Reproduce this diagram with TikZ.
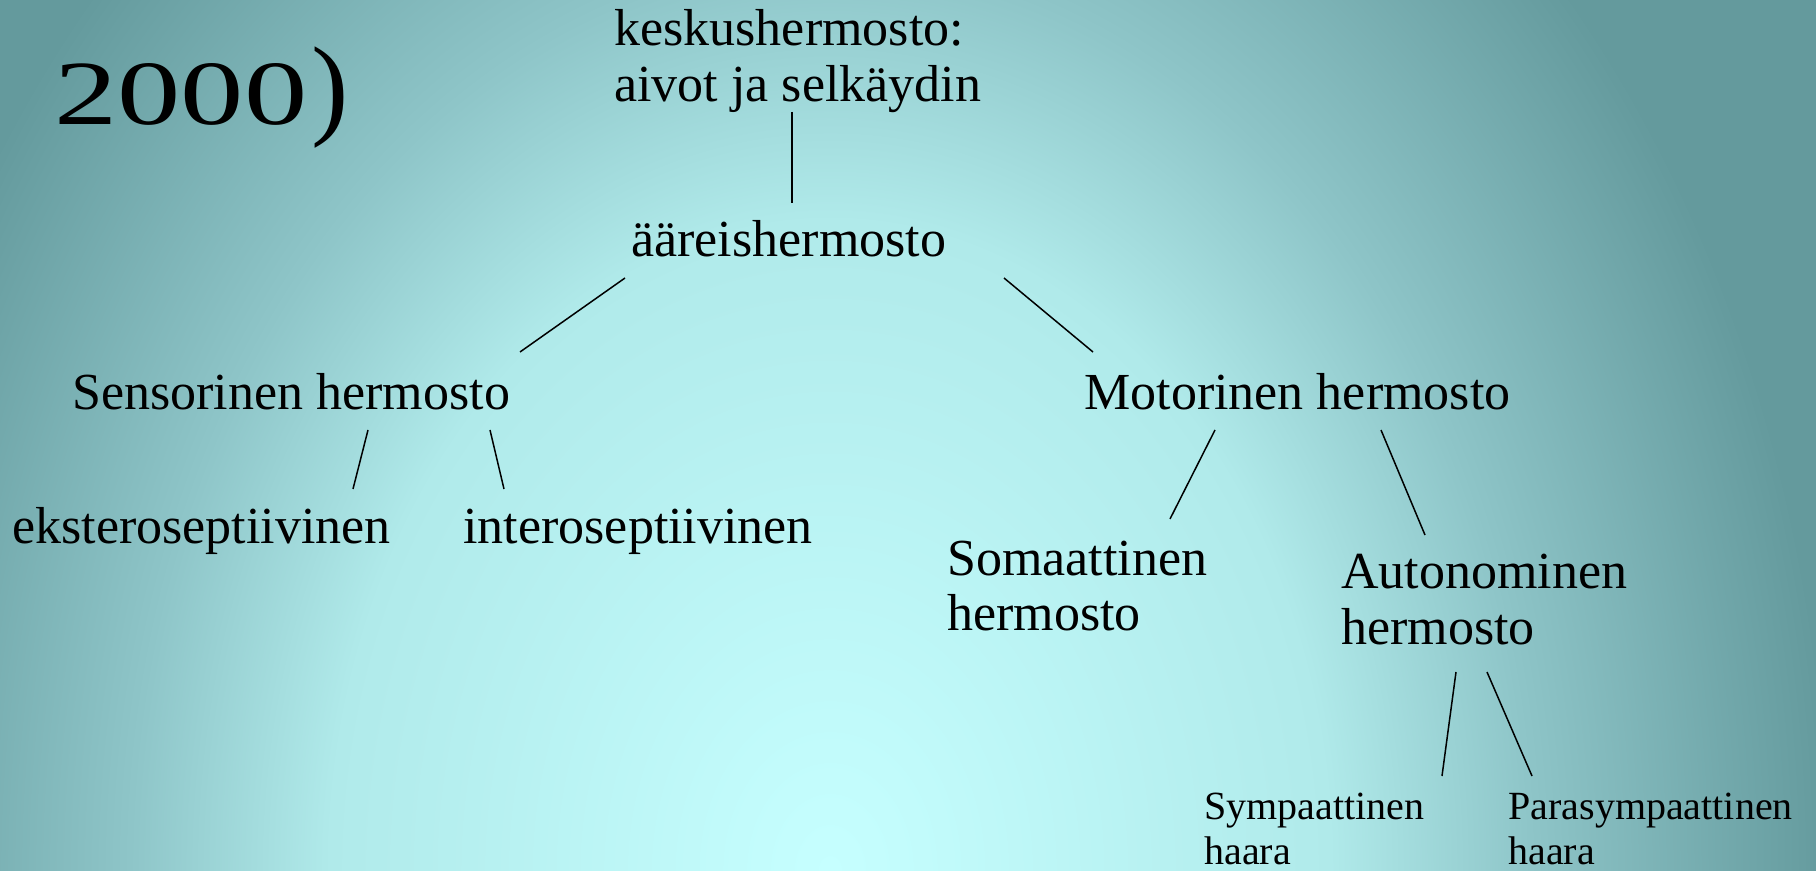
\documentclass[tikz,border=0pt]{standalone}
\usepackage{fontspec}
\setmainfont{Liberation Serif}
\usepackage{graphicx}
\definecolor{bgA}{RGB}{198,255,255}
\definecolor{bgB}{RGB}{176,234,234}
\definecolor{bgC}{RGB}{142,197,200}
\definecolor{bgE}{RGB}{100,154,157}
\pgfdeclareradialshading{bgshade}{\pgfpoint{0bp}{0bp}}{color(0bp)=(bgA); color(12.5bp)=(bgB); color(17.5bp)=(bgC); color(25bp)=(bgE); color(50bp)=(bgE)}
\tikzset{
  lbl/.style={inner sep=0pt, anchor=base west, align=left, font=\fontsize{26}{28}\selectfont},
  small/.style={inner sep=0pt, anchor=base west, align=left, font=\fontsize{20}{22.5}\selectfont},
  conn/.style={draw=black, line width=0.75pt}
}
\begin{document}
\begin{tikzpicture}[x=0.5pt, y=-0.5pt]
\useasboundingbox (0,0) rectangle (1816,871);
\fill[bgE] (0,0) rectangle (1816,871);
\begin{scope}
\clip (0,0) rectangle (1816,871);
\shade[shading=bgshade] (830,871) ellipse [x radius=500pt, y radius=650pt];
\end{scope}

\node[inner sep=0pt, anchor=base west] (title) at (54,125)
  {\resizebox{126.5pt}{30.5pt}{2000}\kern2pt{\fontsize{56}{60}\selectfont)}};

% multi-line nodes: base anchor is the baseline of the last line
\node[lbl] (kesk) at (614,102) {keskushermosto:\\aivot ja selkäydin};
\node[lbl] (aare) at (631,257) {ääreishermosto};
\node[lbl] (sens) at (72,410) {Sensorinen hermosto};
\node[lbl] (moto) at (1084,410) {Motorinen hermosto};
\node[lbl] (ekst) at (12,544) {eksteroseptiivinen};
\node[lbl] (inter) at (463,544) {interoseptiivinen};
\node[lbl] (soma) at (947,631) {Somaattinen\\hermosto};
\node[lbl] (auto) at (1341,644) {Autonominen\\hermosto};
\node[small] (symp) at (1204,864) {Sympaattinen\\haara};
\node[small] (para) at (1508,864) {Parasympaattinen\\haara};

\draw[conn] ([shift={(178,10)}]kesk.base west) -- ([shift={(161,-54)}]aare.base west);
\draw[conn] ([shift={(-6,21)}]aare.base west) -- ([shift={(448,-58)}]sens.base west);
\draw[conn] ([shift={(373,21)}]aare.base west) -- ([shift={(9,-58)}]moto.base west);
\draw[conn] ([shift={(296,20)}]sens.base west) -- ([shift={(341,-55)}]ekst.base west);
\draw[conn] ([shift={(418,20)}]sens.base west) -- ([shift={(41,-55)}]inter.base west);
\draw[conn] ([shift={(131,20)}]moto.base west) -- ([shift={(223,-112)}]soma.base west);
\draw[conn] ([shift={(297,20)}]moto.base west) -- ([shift={(84,-109)}]auto.base west);
\draw[conn] ([shift={(115,28)}]auto.base west) -- ([shift={(238,-88)}]symp.base west);
\draw[conn] ([shift={(146,28)}]auto.base west) -- ([shift={(24,-88)}]para.base west);
\end{tikzpicture}
\end{document}
